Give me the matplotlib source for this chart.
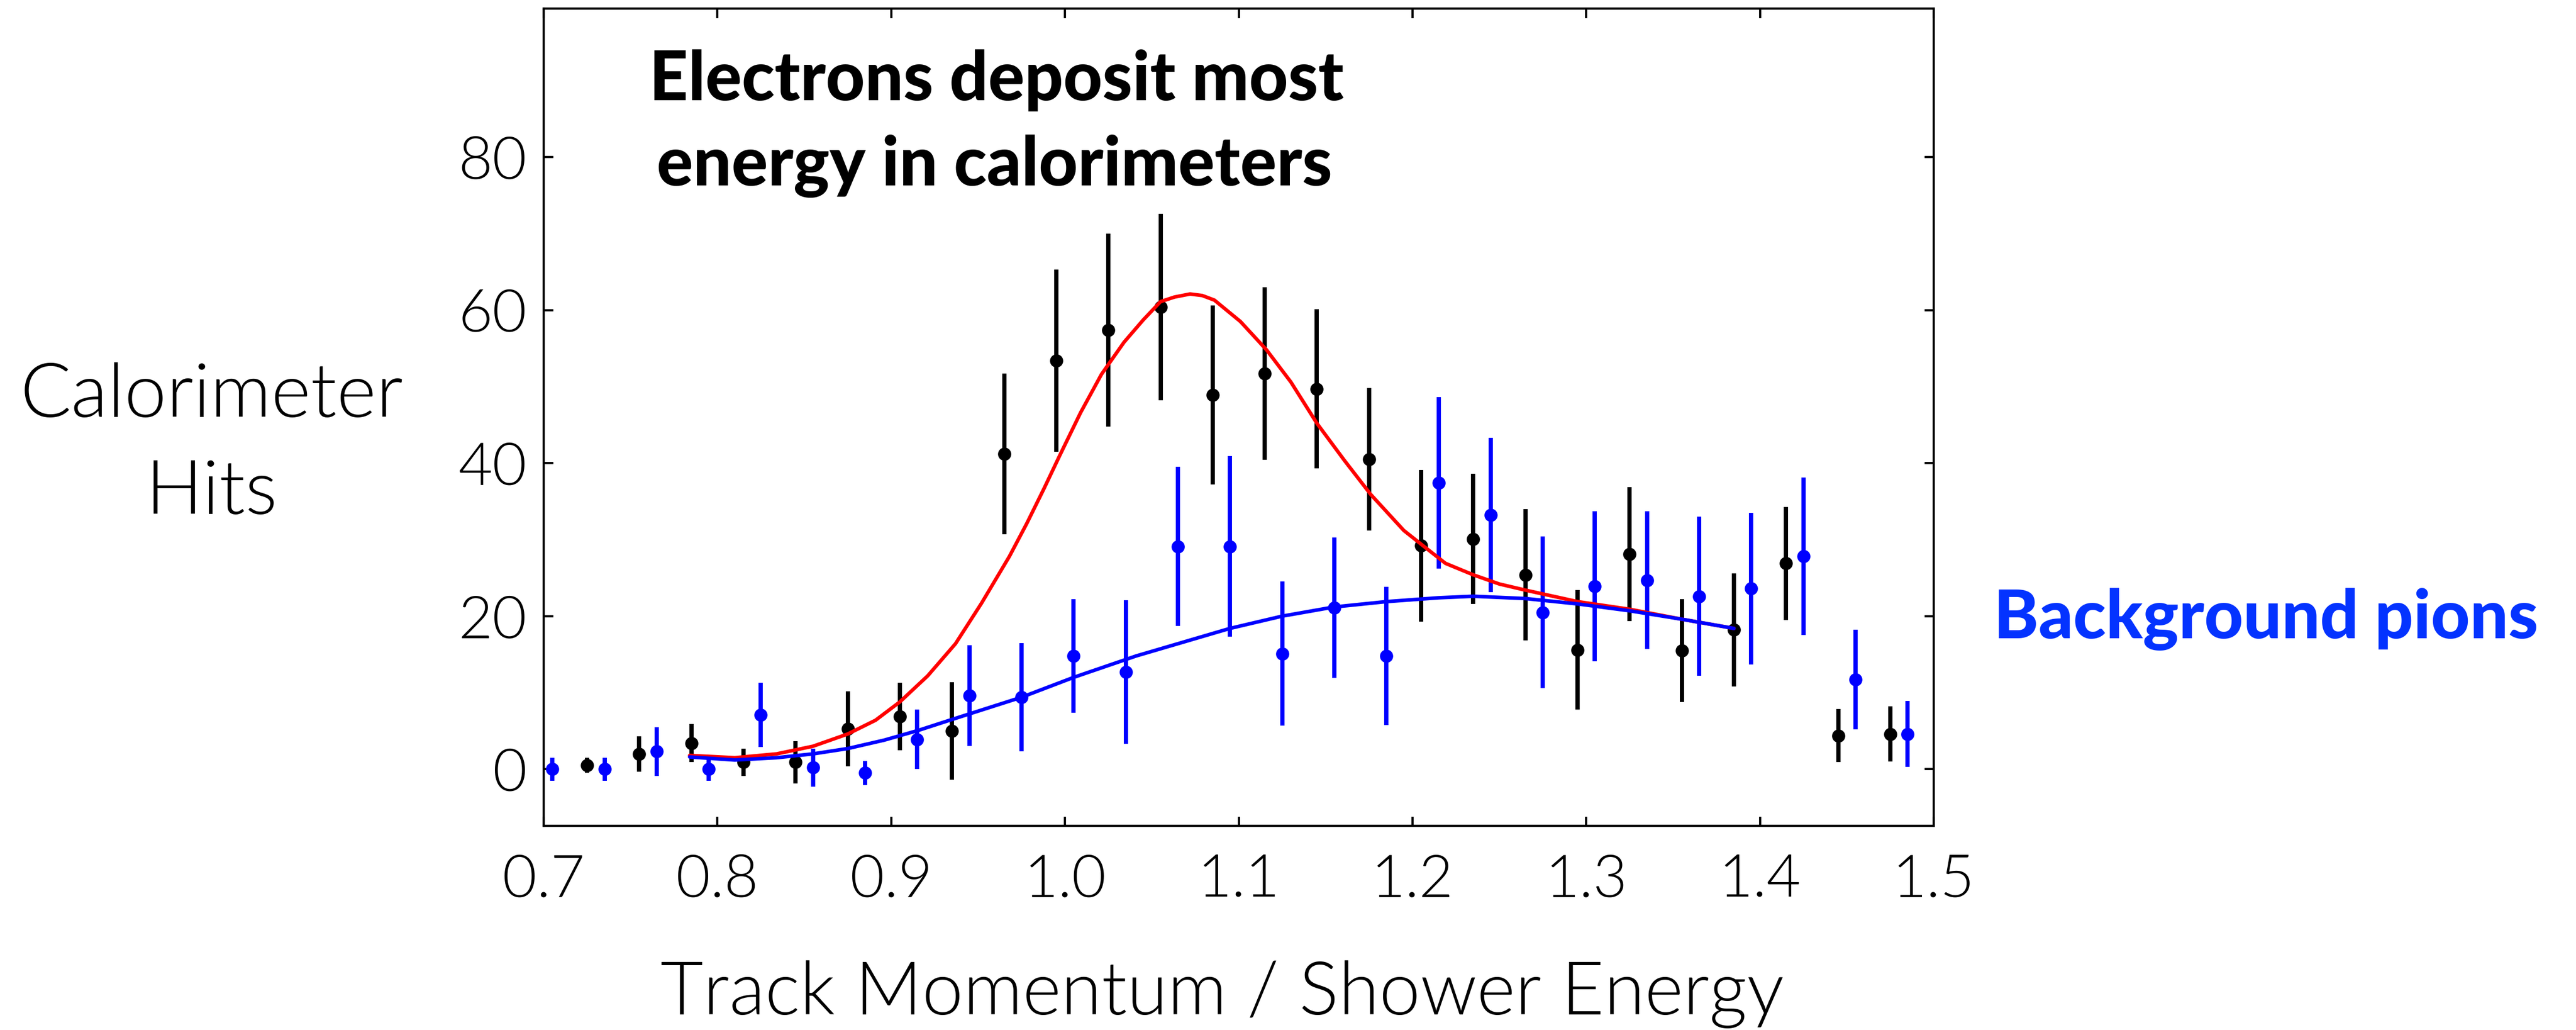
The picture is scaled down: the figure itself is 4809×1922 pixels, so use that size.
import matplotlib
matplotlib.use("Agg")
import matplotlib.pyplot as plt

# ---- data ----
electron_x = [0.725, 0.755, 0.785, 0.815, 0.845, 0.875, 0.905, 0.935, 0.965, 0.995,
              1.025, 1.055, 1.085, 1.115, 1.145, 1.175, 1.205, 1.235, 1.265, 1.295,
              1.325, 1.355, 1.385, 1.415, 1.445, 1.475]
electron_y = [0.5, 2.0, 3.4, 0.9, 0.9, 5.3, 6.9, 5.0, 41.2, 53.4,
              57.4, 60.4, 48.9, 51.7, 49.7, 40.5, 29.2, 30.1, 25.4, 15.6,
              28.1, 15.5, 18.2, 26.9, 4.4, 4.6]
electron_err = [1.0, 2.3, 2.5, 1.8, 2.8, 4.9, 4.4, 6.4, 10.5, 11.9,
                12.6, 12.2, 11.7, 11.3, 10.4, 9.3, 9.9, 8.5, 8.6, 7.8,
                8.75, 6.7, 7.4, 7.4, 3.5, 3.6]

pion_x = [0.705, 0.735, 0.765, 0.795, 0.825, 0.855, 0.885, 0.915, 0.945, 0.975,
          1.005, 1.035, 1.065, 1.095, 1.125, 1.155, 1.185, 1.215, 1.245, 1.275,
          1.305, 1.335, 1.365, 1.395, 1.425, 1.455, 1.485]
pion_y = [0.0, 0.0, 2.3, 0.0, 7.1, 0.2, -0.5, 3.9, 9.6, 9.4,
          14.8, 12.7, 29.1, 29.1, 15.1, 21.1, 14.8, 37.4, 33.2, 20.5,
          23.9, 24.7, 22.6, 23.6, 27.8, 11.7, 4.6]
pion_err = [1.5, 1.5, 3.2, 1.5, 4.2, 2.5, 1.6, 3.9, 6.6, 7.1,
            7.4, 9.4, 10.4, 11.8, 9.4, 9.2, 9.0, 11.2, 10.1, 9.9,
            9.8, 9.0, 10.4, 9.9, 10.3, 6.5, 4.3]

# fit curves
signal_fit_x = [0.784, 0.810, 0.834, 0.855, 0.875, 0.891, 0.905, 0.921, 0.937, 0.952,
                0.968, 0.978, 0.988, 0.997, 1.009, 1.021, 1.034, 1.045, 1.055, 1.063,
                1.072, 1.079, 1.086, 1.101, 1.116, 1.130, 1.145, 1.161, 1.176, 1.195,
                1.205, 1.219, 1.235, 1.250, 1.265, 1.295, 1.325, 1.355, 1.385]
signal_fit_y = [1.8, 1.5, 2.0, 3.0, 4.6, 6.4, 8.8, 12.2, 16.4, 21.7,
                27.8, 32.1, 36.7, 41.0, 46.6, 51.6, 55.8, 58.7, 61.1, 61.7,
                62.1, 61.9, 61.3, 58.5, 54.8, 50.6, 45.2, 40.3, 35.9, 31.2,
                29.4, 26.9, 25.4, 24.2, 23.4, 21.9, 20.9, 19.6, 18.4]

bkg_fit_x = [0.784, 0.810, 0.834, 0.855, 0.875, 0.896, 0.916, 0.935, 0.975, 1.005,
             1.041, 1.065, 1.095, 1.125, 1.155, 1.185, 1.215, 1.235, 1.265, 1.295,
             1.325, 1.355, 1.385]
bkg_fit_y = [1.6, 1.2, 1.5, 2.0, 2.7, 3.8, 5.1, 6.5, 9.4, 12.0,
             14.8, 16.4, 18.4, 20.0, 21.2, 21.9, 22.4, 22.6, 22.3, 21.6,
             20.7, 19.6, 18.4]

x_ticks = [0.7, 0.8, 0.9, 1.0, 1.1, 1.2, 1.3, 1.4, 1.5]
x_tick_labels = ["0.7", "0.8", "0.9", "1.0", "1.1", "1.2", "1.3", "1.4", "1.5"]
y_ticks = [0, 20, 40, 60, 80]
y_tick_labels = ["0", "20", "40", "60", "80"]

# ---- figure ----
FAM = ["Lato", "DejaVu Sans"]
LIGHT_W = 300
HEAVY_W = 900
W, H, DPI = 4809, 1922, 300
fig = plt.figure(figsize=(W / DPI, H / DPI), dpi=DPI)
fig.patch.set_facecolor("white")
ax = fig.add_axes([1015 / W, 1 - 1541 / H, (3610 - 1015) / W, (1541 - 16) / H])

eb_kw = dict(fmt="o", markersize=4.9, elinewidth=1.9, capsize=0, linestyle="none")
ax.errorbar(electron_x, electron_y, yerr=electron_err, color="black", ecolor="black",
            zorder=3, **eb_kw)
ax.errorbar(pion_x, pion_y, yerr=pion_err, color="#0000ff", ecolor="#0000ff",
            zorder=3, **eb_kw)
ax.plot(signal_fit_x, signal_fit_y, color="#ff0000", linewidth=1.6, zorder=4,
        solid_joinstyle="round", solid_capstyle="round")
ax.plot(bkg_fit_x, bkg_fit_y, color="#0000ff", linewidth=1.6, zorder=5,
        solid_joinstyle="round", solid_capstyle="round")

ax.set_xlim(0.7, 1.5)
ax.set_ylim(-7.4, 99.4)
ax.set_xticks(x_ticks)
ax.set_xticklabels(x_tick_labels)
ax.set_yticks(y_ticks)
ax.set_yticklabels(y_tick_labels)
ax.tick_params(axis="both", which="major", direction="in", length=4.2, width=1.0,
               top=True, right=True, labelsize=26.5, color="black", labelcolor="black")
ax.tick_params(axis="x", pad=12.5)
ax.tick_params(axis="y", pad=7.5)
for lbl in ax.get_xticklabels() + ax.get_yticklabels():
    lbl.set_family(FAM)
    lbl.set_fontweight(LIGHT_W)
for sp in ax.spines.values():
    sp.set_linewidth(1.0)
    sp.set_color("black")

# ---- texts ----
fig.text(1860 / W, 1 - 187 / H, "Electrons deposit most", ha="center", va="baseline",
         fontsize=30.4, fontweight=HEAVY_W, family=FAM, color="black")
fig.text(1857 / W, 1 - 346 / H, "energy in calorimeters", ha="center", va="baseline",
         fontsize=30.4, fontweight=HEAVY_W, family=FAM, color="black")
fig.text(3722 / W, 1 - 1191 / H, "Background pions", ha="left", va="baseline",
         fontsize=30.3, fontweight=HEAVY_W, family=FAM, color="#0433ff")
fig.text(395 / W, 1 - 778 / H, "Calorimeter", ha="center", va="baseline",
         fontsize=33.9, fontweight=LIGHT_W, family=FAM, color="black")
fig.text(395 / W, 1 - 959 / H, "Hits", ha="center", va="baseline",
         fontsize=33.9, fontweight=LIGHT_W, family=FAM, color="black")
fig.text(2282 / W, 1 - 1893 / H, "Track Momentum / Shower Energy", ha="center",
         va="baseline", fontsize=33.1, fontweight=LIGHT_W, family=FAM, color="black")

fig.savefig("out.png", dpi=DPI, facecolor="white")
